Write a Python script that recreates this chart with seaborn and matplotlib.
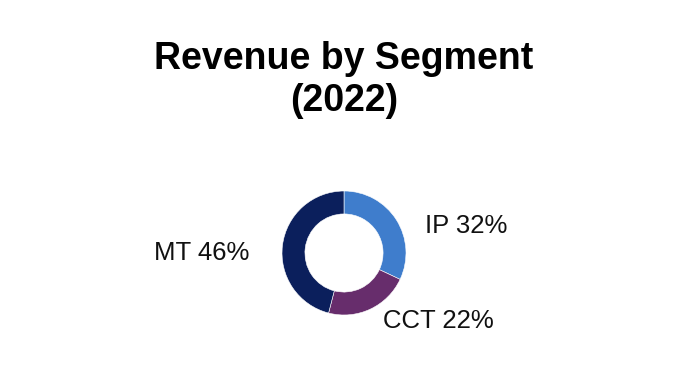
import matplotlib
matplotlib.use("Agg")
import matplotlib.pyplot as plt
import seaborn as sns
import numpy as np

segments = ["IP", "CCT", "MT"]
shares = [32, 22, 46]
colors = ["#3F7DCC", "#672D6C", "#0B1F5C"]
title = "Revenue by Segment\n(2022)"

sns.set_theme(style="white")
plt.rcParams['font.family'] = ['Liberation Sans', 'DejaVu Sans']

W, H, DPI = 6.88, 3.88, 100
fig = plt.figure(figsize=(W, H), dpi=DPI)
ax = fig.add_axes([0, 0, 1, 1])

R_PX = 62.0
cx, cy = 344, 253

wedges, _ = ax.pie(shares, colors=colors, startangle=90, counterclock=False,
                   radius=1.0, wedgeprops=dict(width=0.37, edgecolor="white", linewidth=0.4))
ax.axis("off")
ax.set_aspect("auto")
ax.set_xlim(-cx / R_PX, (W * DPI - cx) / R_PX)
ax.set_ylim(-(H * DPI - cy) / R_PX, cy / R_PX)

label_pos = {"IP": (1.31, 0.44, "left"), "CCT": (0.63, -1.10, "left"), "MT": (-1.53, 0.0, "right")}
for seg, val in zip(segments, shares):
    x, y, ha = label_pos[seg]
    ax.text(x, y, f"{seg} {val}%", ha=ha, va="center", fontsize=18.5, color="#111111")

fig.text(0.5, 1 - 41 / 388, title, ha="center", va="top", fontsize=27,
         fontweight="bold", color="black", linespacing=1.2)

fig.savefig("out.png", dpi=DPI, facecolor="white")
